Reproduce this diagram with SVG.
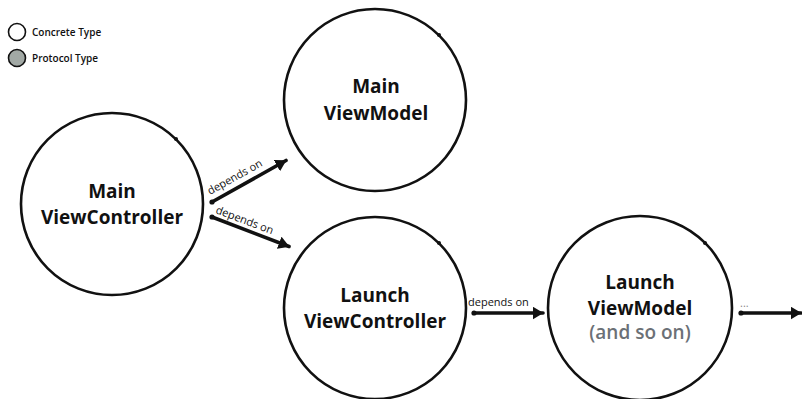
<svg xmlns="http://www.w3.org/2000/svg" width="802" height="399" viewBox="0 0 802 399">
<style>
.node{fill:#fff;stroke:#111;stroke-width:2.6}
.mark{fill:#111}
.t{font-family:"Open Sans","Noto Sans","DejaVu Sans",sans-serif;font-weight:700;font-size:19px;fill:#111;text-anchor:middle}
.sub{font-family:"Open Sans","Noto Sans","DejaVu Sans",sans-serif;font-weight:600;font-size:19px;fill:#6b7076;text-anchor:middle}
.lbl{font-family:"Open Sans","Noto Sans","DejaVu Sans",sans-serif;font-size:11px;fill:#111}
.leg{font-family:"Open Sans","Noto Sans","DejaVu Sans",sans-serif;font-weight:600;font-size:10px;fill:#111}
.edge{stroke:#111;stroke-width:3.6;stroke-linecap:round;fill:none}
.dot{fill:#111}
</style>
<defs>
<marker id="ah" viewBox="0 0 11 13" refX="10.5" refY="6.5" markerWidth="11" markerHeight="13" orient="auto" markerUnits="userSpaceOnUse">
<path d="M0,0 L11,6.5 L0,13 z" fill="#111"/>
</marker>
</defs>
<rect width="802" height="399" fill="#fff"/>
<g id="legend">
<circle cx="17" cy="32" r="8.5" fill="#fff" stroke="#111" stroke-width="1.6"/>
<text class="leg" x="32" y="35.5">Concrete Type</text>
<circle cx="17" cy="58" r="8.5" fill="#a2a9a5" stroke="#111" stroke-width="1.6"/>
<text class="leg" x="32" y="61.5">Protocol Type</text>
</g>
<g id="connectors">
<line class="edge" x1="212" y1="202" x2="286" y2="160.5" marker-end="url(#ah)"/>
<circle class="dot" cx="212" cy="202" r="2.6"/>
<text class="lbl" transform="translate(210,195) rotate(-29)">depends on</text>
<line class="edge" x1="212" y1="217" x2="289" y2="246.5" marker-end="url(#ah)"/>
<circle class="dot" cx="212" cy="217" r="2.6"/>
<text class="lbl" transform="translate(215,213) rotate(20.6)">depends on</text>
<line class="edge" x1="474" y1="313" x2="543" y2="313" marker-end="url(#ah)"/>
<circle class="dot" cx="474" cy="313" r="2.6"/>
<text class="lbl" x="468" y="306">depends on</text>
<line class="edge" x1="741" y1="313" x2="801" y2="313" marker-end="url(#ah)"/>
<circle class="dot" cx="741" cy="313" r="2.6"/>
<text class="lbl" x="740" y="307" style="fill:#888">...</text>
</g>
<g id="main-viewcontroller">
<circle class="node" cx="112" cy="204" r="91"/>
<circle class="mark" cx="176" cy="139" r="2"/>
<text class="t" x="112" y="198">Main</text>
<text class="t" x="112" y="224">ViewController</text>
</g>
<g id="main-viewmodel">
<circle class="node" cx="375" cy="100" r="91"/>
<circle class="mark" cx="439" cy="35" r="2"/>
<text class="t" x="376" y="93">Main</text>
<text class="t" x="376" y="120">ViewModel</text>
</g>
<g id="launch-viewcontroller">
<circle class="node" cx="375" cy="308" r="91"/>
<circle class="mark" cx="439" cy="243" r="2"/>
<text class="t" x="375" y="302">Launch</text>
<text class="t" x="375" y="328">ViewController</text>
</g>
<g id="launch-viewmodel">
<circle class="node" cx="640" cy="308" r="92"/>
<circle class="mark" cx="705" cy="243" r="2"/>
<text class="t" x="640" y="289">Launch</text>
<text class="t" x="640" y="315">ViewModel</text>
<text class="sub" x="640" y="339">(and so on)</text>
</g>
</svg>
